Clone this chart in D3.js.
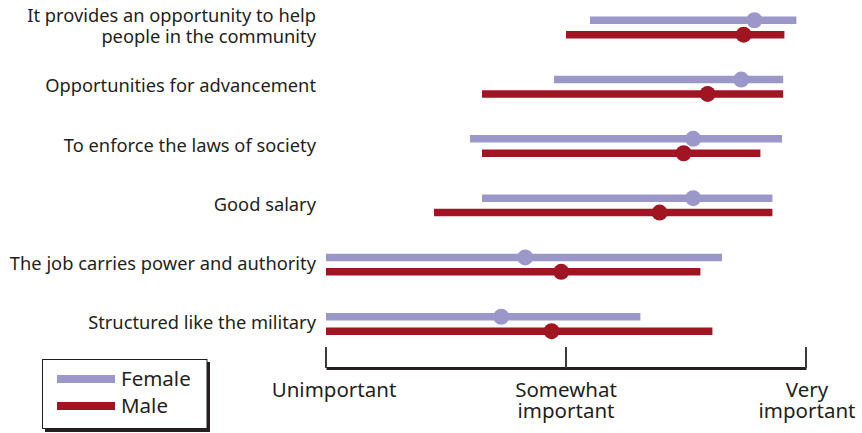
<!DOCTYPE html>
<html><head><meta charset="utf-8">
<script src="https://cdn.jsdelivr.net/npm/d3@7"></script>
<style>
body{margin:0;background:#fff;}
text{font-family:"Noto Sans","Open Sans",sans-serif;fill:#231f20;}
</style></head>
<body>
<svg id="chart" width="862" height="433"></svg>
<script>
const categories = [
  ["It provides an opportunity to help","people in the community"],
  ["Opportunities for advancement"],
  ["To enforce the laws of society"],
  ["Good salary"],
  ["The job carries power and authority"],
  ["Structured like the military"]
];
const femaleLow  = [2.10, 1.95, 1.60, 1.65, 1.00, 1.00];
const femaleHigh = [2.96, 2.905, 2.90, 2.86, 2.65, 2.31];
const femaleMean = [2.785, 2.73, 2.53, 2.53, 1.83, 1.73];
const maleLow    = [2.00, 1.65, 1.65, 1.45, 1.00, 1.00];
const maleHigh   = [2.91, 2.905, 2.81, 2.86, 2.56, 2.61];
const maleMean   = [2.74, 2.59, 2.49, 2.39, 1.98, 1.94];
const tickValues = [1, 2, 3];
const tickLabels = [["Unimportant"], ["Somewhat","important"], ["Very","important"]];
const seriesNames = ["Female", "Male"];
const colors = {Female:"#9c97c9", Male:"#a11422"};

const svg = d3.select("#chart");
const x = d3.scaleLinear().domain([1,3]).range([326,806]);
const y = d3.scaleBand().domain(d3.range(categories.length)).range([-2.2,353.6]).paddingInner(0).paddingOuter(0);
const off = 7.2;

const series = [
  {name:"Female", low:femaleLow, high:femaleHigh, mean:femaleMean, dy:-off},
  {name:"Male", low:maleLow, high:maleHigh, mean:maleMean, dy:off}
];

const rowCenter = i => y(i) + y.bandwidth()/2;

// category labels
categories.forEach((lines,i)=>{
  const n = lines.length;
  lines.forEach((ln,j)=>{
    svg.append("text").attr("text-anchor","end").attr("font-size",18.3)
      .attr("x",316).attr("y", rowCenter(i) + 5.5 + (j-(n-1)/2)*21).text(ln);
  });
});

series.forEach(s=>{
  const g = svg.append("g");
  g.selectAll("line").data(d3.range(categories.length)).join("line")
    .attr("x1",i=>x(s.low[i])).attr("x2",i=>x(s.high[i]))
    .attr("y1",i=>rowCenter(i)+s.dy).attr("y2",i=>rowCenter(i)+s.dy)
    .attr("stroke",colors[s.name]).attr("stroke-width",7.5);
  g.selectAll("circle").data(d3.range(categories.length)).join("circle")
    .attr("cx",i=>x(s.mean[i])).attr("cy",i=>rowCenter(i)+s.dy).attr("r",8)
    .attr("fill",colors[s.name]);
});

// axis
const axisY = 368;
const ax = svg.append("g").attr("transform",`translate(0,${axisY})`)
  .call(d3.axisBottom(x).tickValues(tickValues).tickSize(0).tickFormat(""));
ax.select(".domain").attr("stroke","#231f20").attr("stroke-width",3);
ax.selectAll(".tick line").remove();
svg.selectAll("line.tk").data(tickValues).join("line").attr("class","tk")
  .attr("x1",d=>x(d)).attr("x2",d=>x(d)).attr("y1",347).attr("y2",axisY)
  .attr("stroke","#3a3a3a").attr("stroke-width",2);
const labOff = [8,0,1];
tickValues.forEach((v,i)=>{
  tickLabels[i].forEach((ln,j)=>{
    svg.append("text").attr("text-anchor","middle").attr("font-size",20.5)
      .attr("x",x(v)+labOff[i]).attr("y",397+j*21).text(ln);
  });
});

// legend
const lg = svg.append("g");
lg.append("rect").attr("x",45).attr("y",362).attr("width",165).attr("height",70).attr("fill","#231f20");
lg.append("rect").attr("x",42.5).attr("y",359.5).attr("width",164.5).attr("height",69).attr("fill","#fff").attr("stroke","#231f20").attr("stroke-width",1);
seriesNames.forEach((nm,i)=>{
  const yy = 379 + i*27;
  lg.append("line").attr("x1",57).attr("x2",115).attr("y1",yy).attr("y2",yy)
    .attr("stroke",colors[nm]).attr("stroke-width",8);
  lg.append("text").attr("x",121).attr("y",yy+7).attr("font-size",20.5).text(nm);
});
</script>
</body></html>
